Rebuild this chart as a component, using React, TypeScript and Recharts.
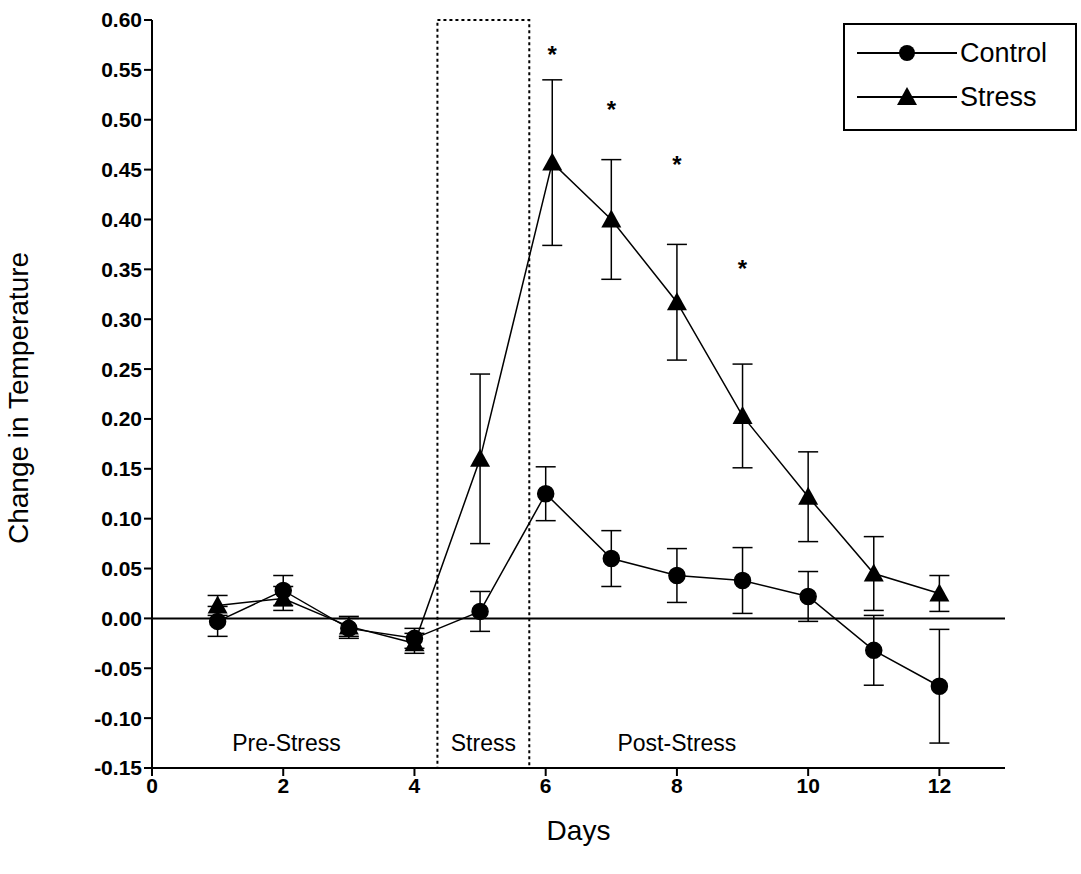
import { LineChart, Line, XAxis, YAxis, ErrorBar, ReferenceLine, ReferenceArea, ReferenceDot, Scatter } from 'recharts';

const controlDays = [1, 2, 3, 4, 5, 6, 7, 8, 9, 10, 11, 12];
const controlMeans = [-0.003, 0.028, -0.01, -0.02, 0.007, 0.125, 0.06, 0.043, 0.038, 0.022, -0.032, -0.068];
const controlErrs = [0.015, 0.015, 0.01, 0.01, 0.02, 0.027, 0.028, 0.027, 0.033, 0.025, 0.035, 0.057];

const stressDays = [1, 2, 3, 4, 5, 6.1, 7, 8, 9, 10, 11, 12];
const stressMeans = [0.013, 0.02, -0.008, -0.025, 0.16, 0.457, 0.4, 0.317, 0.203, 0.122, 0.045, 0.025];
const stressErrs = [0.01, 0.012, 0.01, 0.01, 0.085, 0.083, 0.06, 0.058, 0.052, 0.045, 0.037, 0.018];

const starDays = [6.1, 7, 8, 9];
const starValues = [0.565, 0.51, 0.455, 0.35];

const regionLabels = ['Pre-Stress', 'Stress', 'Post-Stress'];
const regionDays = [2.05, 5.05, 8.0];

const xTicks = [0, 2, 4, 6, 8, 10, 12];
const yTicks = [-0.15, -0.1, -0.05, 0, 0.05, 0.1, 0.15, 0.2, 0.25, 0.3, 0.35, 0.4, 0.45, 0.5, 0.55, 0.6];

const control = controlDays.map((d, i) => ({ day: d, v: controlMeans[i], err: controlErrs[i] }));
const stress = stressDays.map((d, i) => ({ day: d, v: stressMeans[i], err: stressErrs[i] }));
const stars = starDays.map((d, i) => ({ day: d, v: starValues[i] }));

const font = '"Liberation Sans", Arial, sans-serif';

const Triangle = (p: any) => {
  const { cx, cy } = p;
  if (cx == null || cy == null) return null;
  return <polygon points={`${cx},${cy - 10} ${cx - 10},${cy + 8} ${cx + 10},${cy + 8}`} fill="#000" />;
};

const Star = (p: any) => (
  <text x={p.cx} y={p.cy + 8} textAnchor="middle" fontSize={24} fontWeight="bold" fontFamily={font}>*</text>
);

export default function App() {
  return (
    <div style={{ position: 'absolute', left: 0, top: 0, width: 1081, height: 874, background: '#fff', fontFamily: font }}>
      <LineChart width={1081} height={874} margin={{ top: 20, right: 76, left: 52, bottom: 46 }}>
        <XAxis type="number" dataKey="day" domain={[0, 13]} ticks={xTicks} height={60}
          tick={{ fontSize: 21, fill: '#000', fontWeight: 600, fontFamily: font }} stroke="#000" strokeWidth={2} tickSize={8}
          label={{ value: 'Days', position: 'insideBottom', offset: -12, fontSize: 28, fill: '#000', fontWeight: 500 }} />
        <YAxis type="number" domain={[-0.15, 0.6]} ticks={yTicks} width={100} tickFormatter={(v: number) => v.toFixed(2)}
          tick={{ fontSize: 21, fill: '#000', fontWeight: 600, fontFamily: font }} stroke="#000" strokeWidth={2} tickSize={8}
          label={{ value: 'Change in Temperature', angle: -90, position: 'insideLeft', offset: -34, dy: 150, fontSize: 28, fill: '#000', fontWeight: 500 }} />
        <ReferenceArea x1={4.35} x2={5.75} y1={-0.15} y2={0.6} fill="none" stroke="#000" strokeWidth={2} strokeDasharray="3 3" ifOverflow="visible" />
        <ReferenceLine y={0} stroke="#000" strokeWidth={2} />
        <Line data={control} dataKey="v" stroke="#000" strokeWidth={1.5} isAnimationActive={false}
          dot={{ r: 8, fill: '#000', stroke: '#000' }}>
          <ErrorBar dataKey="err" width={10} stroke="#000" strokeWidth={1.5} direction="y" />
        </Line>
        <Line data={stress} dataKey="v" stroke="#000" strokeWidth={1.5} isAnimationActive={false} dot={<Triangle />}>
          <ErrorBar dataKey="err" width={10} stroke="#000" strokeWidth={1.5} direction="y" />
        </Line>
        <Scatter data={stars} dataKey="v" shape={<Star />} isAnimationActive={false} />
        {regionLabels.map((t, i) => (
          <ReferenceDot key={t} x={regionDays[i]} y={-0.125} r={0} fill="none" stroke="none"
            label={{ value: t, fontSize: 23, fill: '#000', fontWeight: 500, position: 'center' }} />
        ))}
      </LineChart>
      <div style={{ position: 'absolute', left: 843, top: 23, width: 234, height: 108, border: '2px solid #000', background: '#fff', boxSizing: 'border-box' }}>
        <svg width={230} height={104}>
          <line x1={12} x2={112} y1={28} y2={28} stroke="#000" strokeWidth={2} />
          <circle cx={62} cy={28} r={8} fill="#000" />
          <text x={115} y={37} fontSize={27} fontFamily={font}>Control</text>
          <line x1={12} x2={112} y1={72} y2={72} stroke="#000" strokeWidth={2} />
          <polygon points="62,62 52,80 72,80" fill="#000" />
          <text x={115} y={81} fontSize={27} fontFamily={font}>Stress</text>
        </svg>
      </div>
    </div>
  );
}
